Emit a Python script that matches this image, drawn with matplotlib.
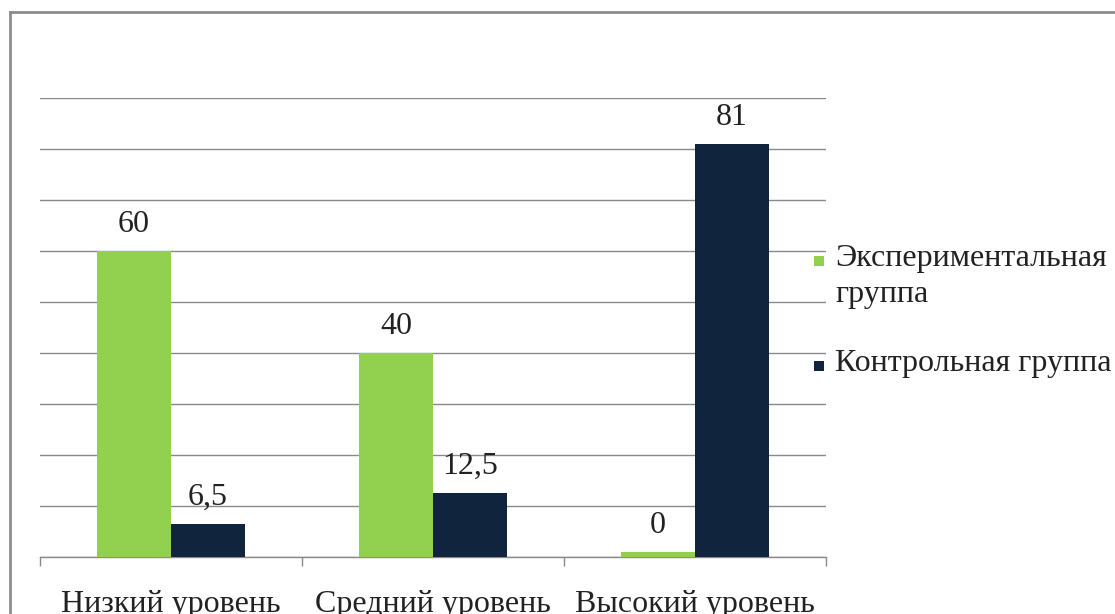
import matplotlib
matplotlib.use("Agg")
import matplotlib.pyplot as plt
from matplotlib.lines import Line2D
from matplotlib.patches import Rectangle
import numpy as np

categories = ["Низкий уровень", "Средний уровень", "Высокий уровень"]
series_names = ["Экспериментальная\nгруппа", "Контрольная группа"]
exp_values = [60, 40, 1]
ctrl_values = [6.5, 12.5, 81]
exp_labels = ["60", "40", "0"]
ctrl_labels = ["6,5", "12,5", "81"]

GREEN = "#92D050"
NAVY = "#10243E"
GRID = "#8a8a8a"
TXT = "#222222"

plt.rcParams['font.family'] = ['Liberation Serif', 'DejaVu Serif']

W, H = 1115, 614
fig = plt.figure(figsize=(W / 100, H / 100), dpi=100)
ax = fig.add_axes([40 / W, 1 - 557 / H, (826 - 40) / W, (557 - 98) / H])

x = np.arange(len(categories))
bw = 0.283
b1 = ax.bar(x - bw / 2, exp_values, bw, color=GREEN, label=series_names[0], zorder=3)
b2 = ax.bar(x + bw / 2, ctrl_values, bw, color=NAVY, label=series_names[1], zorder=3)

fs = 23
for bars, labs in ((b1, exp_labels), (b2, ctrl_labels)):
    for r, t in zip(bars, labs):
        ax.annotate(t, (r.get_x() + r.get_width() / 2, r.get_height()),
                    xytext=(0, 12), textcoords="offset pixels",
                    ha="center", va="bottom", fontsize=fs, color=TXT)

ax.set_xlim(-0.5, 2.5)
ax.set_ylim(0, 90)
ax.set_yticks(np.arange(0, 91, 10))
ax.yaxis.grid(True, color=GRID, linewidth=1.0, zorder=0)
ax.tick_params(axis="y", left=False, labelleft=False)
for s in ("left", "right", "top"):
    ax.spines[s].set_visible(False)
ax.spines["bottom"].set_color(GRID)
ax.spines["bottom"].set_linewidth(1.0)

ax.set_xticks([-0.5, 0.5, 1.5, 2.5])
ax.set_xticklabels([])
ax.tick_params(axis="x", which="major", length=6.5, width=1.0, color=GRID, direction="out")
ax.set_xticks(x, minor=True)
ax.set_xticklabels(categories, minor=True, fontsize=fs, color=TXT)
ax.tick_params(axis="x", which="minor", length=0, pad=24)

# legend (manual layout to match the reference spacing)
leg_items = [(GREEN, series_names[0], 261), (NAVY, series_names[1], 366)]
for color, name, yc in leg_items:
    fig.add_artist(Rectangle((814 / W, 1 - (yc + 5) / H), 10 / W, 10 / H,
                             transform=fig.transFigure, facecolor=color,
                             edgecolor="none"))
    fig.text(835 / W, 1 - (yc - 17) / H, name, fontsize=fs, color=TXT,
             ha="left", va="top", linespacing=1.3)

fig.add_artist(Line2D([10 / W, 1.0], [1 - 12 / H, 1 - 12 / H], color="#8c8c8c", linewidth=2.0))
fig.add_artist(Line2D([10 / W, 10 / W], [0, 1 - 12 / H], color="#8c8c8c", linewidth=2.0))

fig.savefig("out.png", dpi=100)
